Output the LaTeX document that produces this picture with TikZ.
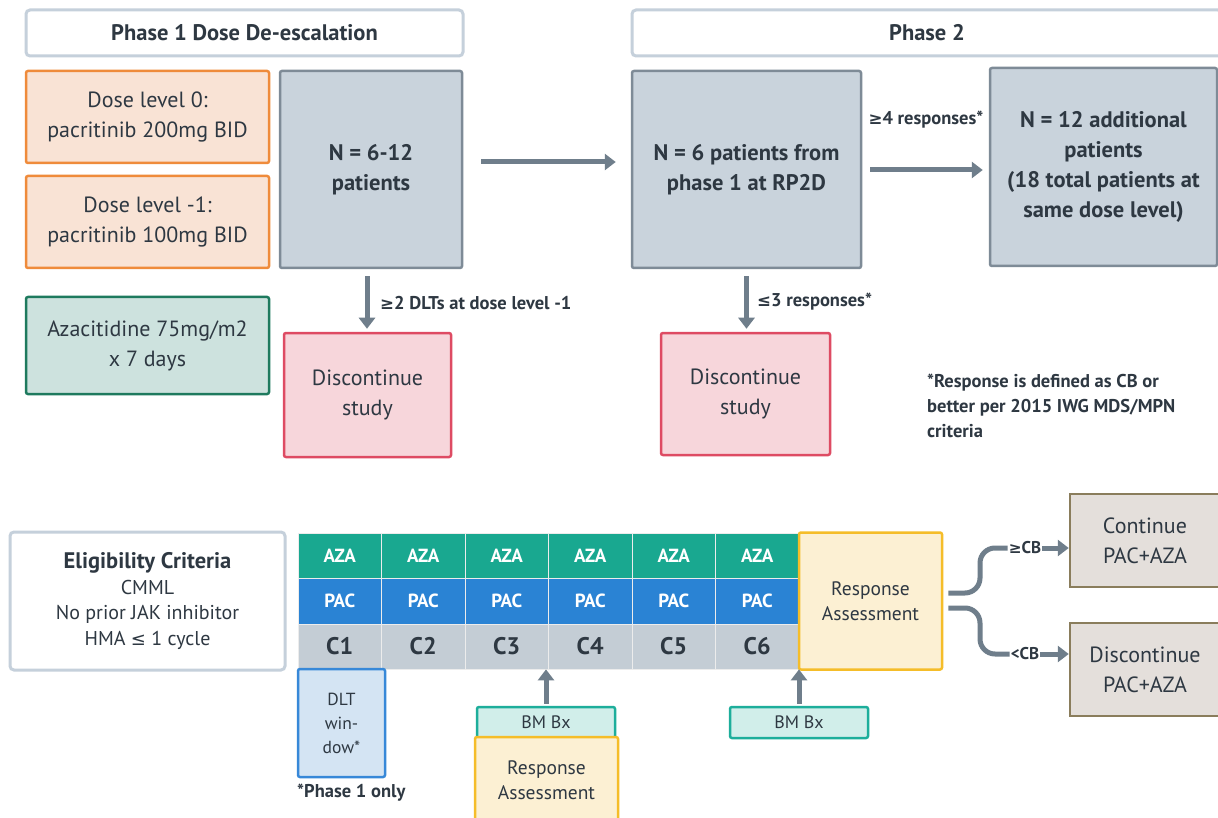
\documentclass[tikz,border=0pt]{standalone}
\usepackage{fontspec}
\setmainfont{PT Sans}
\newfontfamily\symf{DejaVu Sans}[Scale=0.9]
\usetikzlibrary{arrows.meta,calc}
\definecolor{txt}{HTML}{2E3842}
\definecolor{hdrline}{HTML}{C5D0DB}
\definecolor{orgline}{HTML}{EF8B3B}
\definecolor{orgfill}{HTML}{F9E3D5}
\definecolor{grnline}{HTML}{1E7A5E}
\definecolor{grnfill}{HTML}{CDE2DE}
\definecolor{gryfill}{HTML}{C9D3DC}
\definecolor{gryline}{HTML}{7E8B97}
\definecolor{arrc}{HTML}{6F7E8B}
\definecolor{redline}{HTML}{DE4B63}
\definecolor{redfill}{HTML}{F7D6DB}
\definecolor{azac}{HTML}{19A890}
\definecolor{pacc}{HTML}{2A83D4}
\definecolor{crow}{HTML}{C4CDD5}
\definecolor{yline}{HTML}{F5BD29}
\definecolor{yfill}{HTML}{FCF0D3}
\definecolor{bline}{HTML}{3788D8}
\definecolor{bfill}{HTML}{D4E4F3}
\definecolor{tline}{HTML}{1DAE9B}
\definecolor{tfill}{HTML}{D1EEEA}
\definecolor{bnfill}{HTML}{E4DFDB}
\definecolor{bnline}{HTML}{8A7D5C}
\begin{document}
\begin{tikzpicture}[x=1pt,y=-1pt,
  box/.style={rectangle, inner sep=0pt, align=center, text=txt, line width=2.5pt, rounded corners=2pt},
  hdr/.style={box, draw=hdrline, fill=white, line width=3pt, rounded corners=4pt, font=\bfseries\fontsize{22.5}{26}\selectfont},
  dosebox/.style={box, draw=orgline, fill=orgfill, font=\fontsize{22}{30}\selectfont},
  azabox/.style={box, draw=grnline, fill=grnfill, font=\fontsize{22}{30}\selectfont},
  graybox/.style={box, draw=gryline, fill=gryfill, font=\bfseries\fontsize{22.5}{30}\selectfont},
  discbox/.style={box, draw=redline, fill=redfill, font=\fontsize{22}{30}\selectfont},
  eligbox/.style={box, draw=hdrline, fill=white, line width=3pt, rounded corners=4pt, font=\fontsize{20}{25.5}\selectfont},
  cell/.style={rectangle, inner sep=0pt, draw=white!85!gray, line width=0.8pt, minimum width=83.5pt, text=white, font=\bfseries\fontsize{19}{22}\selectfont},
  rabox/.style={box, draw=yline, fill=yfill, font=\fontsize{19.5}{25}\selectfont},
  dltbox/.style={box, draw=bline, fill=bfill, font=\fontsize{17.5}{24}\selectfont},
  bmbox/.style={box, draw=tline, fill=tfill, font=\fontsize{18}{20}\selectfont},
  endbox/.style={box, draw=bnline, fill=bnfill, rounded corners=0pt, font=\fontsize{22}{30}\selectfont},
  lbl/.style={inner sep=1pt, text=txt, font=\bfseries\fontsize{18.5}{20}\selectfont},
  arr/.style={draw=arrc, line width=5pt, -{Triangle[length=11pt,width=16pt]}},
  conn/.style={draw=arrc, line width=5pt}
]
\useasboundingbox (0,0) rectangle (1218,818);
\fill[white] (0,0) rectangle (1218,818);

% headers
\node[hdr, minimum width=437pt, minimum height=46pt] (hdr1) at (244.5,33) {Phase 1 Dose De-escalation};
\node[hdr, minimum width=590pt, minimum height=46pt] (hdr2) at (927,33) {Phase 2};

% phase 1 left column
\node[dosebox, minimum width=243pt, minimum height=92pt] (dose0) at (147.5,117) {Dose level 0:\\pacritinib 200mg BID};
\node[dosebox, minimum width=243pt, minimum height=92pt] (dose1) at (147.5,222) {Dose level -1:\\pacritinib 100mg BID};
\node[azabox, minimum width=243pt, minimum height=97pt] (aza) at (147.5,345.5) {Azacitidine 75mg/m2\\x 7 days};

% main boxes
\node[graybox, minimum width=182pt, minimum height=197pt] (n612) at (371,169.5) {N = 6-12\\patients};
\node[graybox, minimum width=229pt, minimum height=197pt] (n6) at (746.5,169.5) {N = 6 patients from\\phase 1 at RP2D};
\node[graybox, minimum width=227pt, minimum height=198pt] (n12) at (1103.5,167) {N = 12 additional\\patients\\(18 total patients at\\same dose level)};
\node[discbox, minimum width=167pt, minimum height=124pt] (disc1) at (367.5,395) {Discontinue\\study};
\node[discbox, minimum width=169pt, minimum height=122pt] (disc2) at (745.5,394) {Discontinue\\study};

% top arrows
\coordinate (ya) at (0,162);
\coordinate (yb) at (0,170);
\draw[arr, shorten <=18pt, shorten >=15pt] (n612.east |- ya) -- (n6.west |- ya);
\draw[arr, shorten <=8pt, shorten >=6pt] (n6.east |- yb) -- (n12.west |- yb);
\node[lbl] (l4) at (926,120) {{\symf\bfseries ≥}4 responses*};
\draw[arr, shorten <=7pt, shorten >=3pt] (n612.south -| 367,0) -- (disc1.north -| 367,0);
\node[lbl, anchor=west] (l2) at (379,303) {{\symf\bfseries ≥}2 DLTs at dose level -1};
\draw[arr, shorten <=7pt, shorten >=3pt] (n6.south) -- (disc2.north -| n6.south);
\node[lbl, anchor=west] (l3) at (756,302) {{\symf\bfseries ≤}3 responses*};

% footnote
\node[lbl, anchor=north west, align=left, font=\bfseries\fontsize{18.5}{25}\selectfont] (fn) at (926,373) {*Response is defined as CB or\\better per 2015 IWG MDS/MPN\\criteria};

% eligibility
\node[eligbox, minimum width=275pt, minimum height=138pt] (elig) at (147.5,601) {{\bfseries\fontsize{22.5}{27}\selectfont Eligibility Criteria}\\CMML\\No prior JAK inhibitor\\HMA {\symf ≤} 1 cycle};

% grid
\foreach \i in {1,...,6}{
  \pgfmathsetmacro\cx{298+83.5*(\i-0.5)}
  \node[cell, fill=azac, minimum height=45pt] (aza\i) at (\cx,555.5) {AZA};
  \node[cell, fill=pacc, minimum height=46pt] (pac\i) at (\cx,601) {PAC};
  \node[cell, fill=crow, minimum height=45pt, text=txt, font=\bfseries\fontsize{24}{26}\selectfont] (c\i) at (\cx,646.5) {C\i};
}

% response assessment
\node[rabox, minimum width=143pt, minimum height=137pt] (ra1) at (870.5,601) {Response\\Assessment};
\node[endbox, minimum width=150pt, minimum height=93pt] (cont) at (1145,540.5) {Continue\\PAC+AZA};
\node[endbox, minimum width=150pt, minimum height=93pt] (disc3) at (1145,669.5) {Discontinue\\PAC+AZA};
\node[lbl, font=\bfseries\fontsize{17}{18}\selectfont] (gecb) at (1025,548) {{\symf\bfseries ≥}CB};
\node[lbl, font=\bfseries\fontsize{17}{18}\selectfont] (ltcb) at (1025,654) {<CB};
\draw[conn, rounded corners=15pt] ($(ra1.east)+(5,-8)$) -- (980,593) -- (980,548) -- (gecb.west);
\draw[conn, rounded corners=15pt] ($(ra1.east)+(5,7)$) -- (980,608) -- (980,654) -- (ltcb.west);
\draw[arr] (gecb.east) -- (cont.west |- gecb.east);
\draw[arr] (ltcb.east) -- (disc3.west |- ltcb.east);

% below grid
\node[dltbox, minimum width=87pt, minimum height=108pt] (dlt) at (341.5,723) {DLT\\win-\\dow*};
\node[lbl, anchor=west] (p1) at (296,793) {*Phase 1 only};
\node[bmbox, minimum width=138pt, minimum height=31pt] (bm1) at (546,722.5) {BM Bx};
\node[rabox, minimum width=143pt, minimum height=86pt] (ra2) at (546.5,780) {Response\\Assessment};
\node[bmbox, minimum width=138pt, minimum height=31pt] (bm2) at (799,722.5) {BM Bx};
\draw[arr, shorten <=2pt] (bm1.north) -- (bm1.north |- c3.south);
\draw[arr, shorten <=2pt] (bm2.north) -- (bm2.north |- c6.south);
\end{tikzpicture}
\end{document}
